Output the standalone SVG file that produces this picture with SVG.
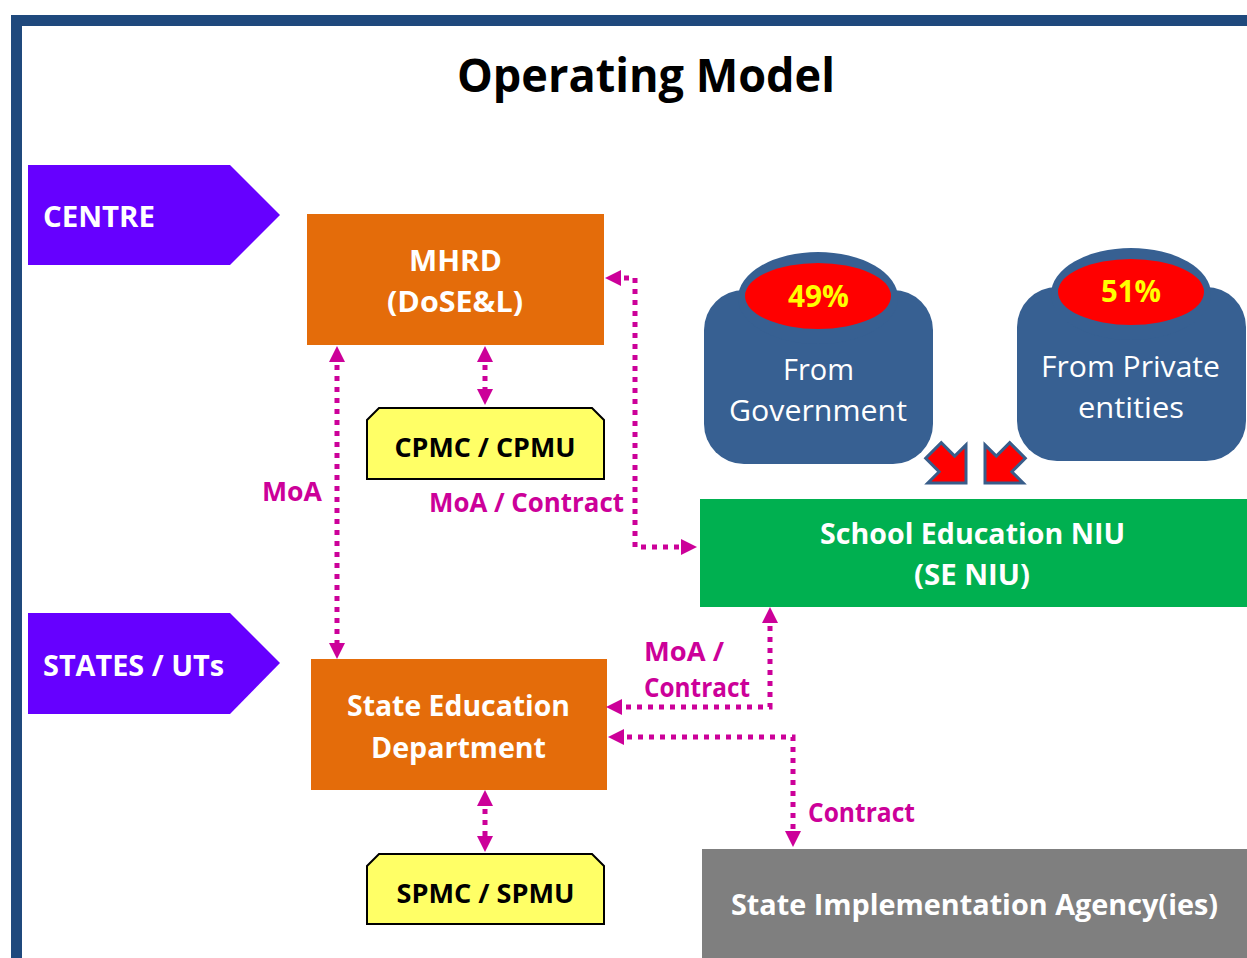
<svg xmlns="http://www.w3.org/2000/svg" width="1247" height="958" viewBox="0 0 1247 958">
  <style>
    .t{font-family:'Open Sans','Liberation Sans',sans-serif;font-weight:bold}
    .w{fill:#ffffff}
    .k{fill:#000000}
    .m{fill:#CC0099}
    .y{fill:#FFFF00}
    .reg{font-weight:normal}
    .conn{fill:none;stroke:#CC0099;stroke-width:5;stroke-dasharray:5 6;marker-start:url(#ah);marker-end:url(#ah)}
    .blk{fill:#FF0000;stroke:#385D8A;stroke-width:3;stroke-linejoin:miter}
  </style>
  <defs>
    <marker id="ah" viewBox="0 0 16 16" refX="8" refY="8" markerWidth="16" markerHeight="16" markerUnits="userSpaceOnUse" orient="auto-start-reverse">
      <path d="M0,0 L16,8 L0,16 Z" fill="#CC0099"/>
    </marker>
  </defs>
  <rect width="1247" height="958" fill="#ffffff"/>
  <rect x="16.5" y="20.5" width="1300" height="1000" fill="none" stroke="#1F497D" stroke-width="11"/>

  <text class="t k" x="646" y="92" font-size="46" text-anchor="middle" textLength="378" lengthAdjust="spacingAndGlyphs">Operating Model</text>

  <g id="centre">
    <polygon points="28,165 230,165 280,215 230,265 28,265" fill="#6600FF"/>
    <text class="t w" x="43" y="227" font-size="29" textLength="112" lengthAdjust="spacingAndGlyphs">CENTRE</text>
  </g>
  <g id="states">
    <polygon points="28,613 230,613 280,663 230,714 28,714" fill="#6600FF"/>
    <text class="t w" x="43" y="676" font-size="29" textLength="181" lengthAdjust="spacingAndGlyphs">STATES / UTs</text>
  </g>

  <g id="mhrd">
    <rect x="307" y="214" width="297" height="131" fill="#E46C0A"/>
    <text class="t w" x="455.5" y="271" font-size="29" text-anchor="middle" textLength="93" lengthAdjust="spacingAndGlyphs">MHRD</text>
    <text class="t w" x="455" y="312" font-size="29" text-anchor="middle" textLength="136" lengthAdjust="spacingAndGlyphs">(DoSE&amp;L)</text>
  </g>

  <g id="cpmc">
    <path d="M367,420 L379,408 L592,408 L604,420 L604,479 L367,479 Z" fill="#FFFF66" stroke="#000000" stroke-width="2"/>
    <text class="t k" x="485" y="457" font-size="27" text-anchor="middle" textLength="181" lengthAdjust="spacingAndGlyphs">CPMC / CPMU</text>
  </g>

  <g id="govt">
    <rect x="704" y="290" width="229" height="174" rx="40" fill="#376092"/>
    <ellipse cx="818" cy="298" rx="80" ry="46" fill="#376092"/>
    <ellipse cx="818" cy="296" rx="73" ry="33" fill="#FF0000"/>
    <text class="t y" x="818.5" y="307" font-size="30" text-anchor="middle" textLength="61" lengthAdjust="spacingAndGlyphs">49%</text>
    <text class="t w reg" x="818.5" y="380" font-size="30" text-anchor="middle" textLength="71" lengthAdjust="spacingAndGlyphs">From</text>
    <text class="t w reg" x="818" y="421" font-size="30" text-anchor="middle" textLength="178" lengthAdjust="spacingAndGlyphs">Government</text>
  </g>

  <g id="private">
    <rect x="1017" y="287" width="229" height="174" rx="40" fill="#376092"/>
    <ellipse cx="1131" cy="294" rx="80" ry="46" fill="#376092"/>
    <ellipse cx="1131" cy="292" rx="73" ry="33" fill="#FF0000"/>
    <text class="t y" x="1131" y="302" font-size="30" text-anchor="middle" textLength="60" lengthAdjust="spacingAndGlyphs">51%</text>
    <text class="t w reg" x="1130.5" y="377" font-size="30" text-anchor="middle" textLength="179" lengthAdjust="spacingAndGlyphs">From Private</text>
    <text class="t w reg" x="1131" y="418" font-size="30" text-anchor="middle" textLength="106" lengthAdjust="spacingAndGlyphs">entities</text>
  </g>

  <g id="funding-arrows">
    <path class="blk" transform="translate(966,483) rotate(45)" d="M0,0 L-27,-27 L-27,-11 L-46,-11 L-46,11 L-27,11 L-27,27 Z"/>
    <path class="blk" transform="translate(985,483) rotate(135)" d="M0,0 L-27,-27 L-27,-11 L-46,-11 L-46,11 L-27,11 L-27,27 Z"/>
  </g>

  <g id="seniu">
    <rect x="700" y="499" width="547" height="108" fill="#00B050"/>
    <text class="t w" x="972.5" y="544" font-size="29" text-anchor="middle" textLength="305" lengthAdjust="spacingAndGlyphs">School Education NIU</text>
    <text class="t w" x="972" y="585" font-size="29" text-anchor="middle" textLength="116" lengthAdjust="spacingAndGlyphs">(SE NIU)</text>
  </g>

  <g id="stateed">
    <rect x="311" y="659" width="296" height="131" fill="#E46C0A"/>
    <text class="t w" x="458.5" y="716" font-size="29" text-anchor="middle" textLength="223" lengthAdjust="spacingAndGlyphs">State Education</text>
    <text class="t w" x="458.5" y="758" font-size="29" text-anchor="middle" textLength="175" lengthAdjust="spacingAndGlyphs">Department</text>
  </g>

  <g id="spmc">
    <path d="M367,866 L379,854 L592,854 L604,866 L604,924 L367,924 Z" fill="#FFFF66" stroke="#000000" stroke-width="2"/>
    <text class="t k" x="485.5" y="903" font-size="27" text-anchor="middle" textLength="178" lengthAdjust="spacingAndGlyphs">SPMC / SPMU</text>
  </g>

  <g id="sia">
    <rect x="702" y="849" width="545" height="109" fill="#7F7F7F"/>
    <text class="t w" x="974.5" y="915" font-size="29" text-anchor="middle" textLength="487" lengthAdjust="spacingAndGlyphs">State Implementation Agency(ies)</text>
  </g>

  <g id="connectors">
    <path class="conn" d="M485,354 V397"/>
    <path class="conn" d="M337,354 V651"/>
    <path class="conn" d="M613,278 H635 V547 H689"/>
    <path class="conn" d="M770,615 V707 H614"/>
    <path class="conn" d="M616,737 H793 V839"/>
    <path class="conn" d="M485,798 V844"/>
    <text class="t m" x="262" y="501" font-size="27" textLength="60" lengthAdjust="spacingAndGlyphs">MoA</text>
    <text class="t m" x="429" y="512" font-size="27" textLength="195" lengthAdjust="spacingAndGlyphs">MoA / Contract</text>
    <text class="t m" x="644" y="661" font-size="27" textLength="80" lengthAdjust="spacingAndGlyphs">MoA /</text>
    <text class="t m" x="644" y="697" font-size="27" textLength="106" lengthAdjust="spacingAndGlyphs">Contract</text>
    <text class="t m" x="808" y="822" font-size="27" textLength="107" lengthAdjust="spacingAndGlyphs">Contract</text>
  </g>
</svg>
